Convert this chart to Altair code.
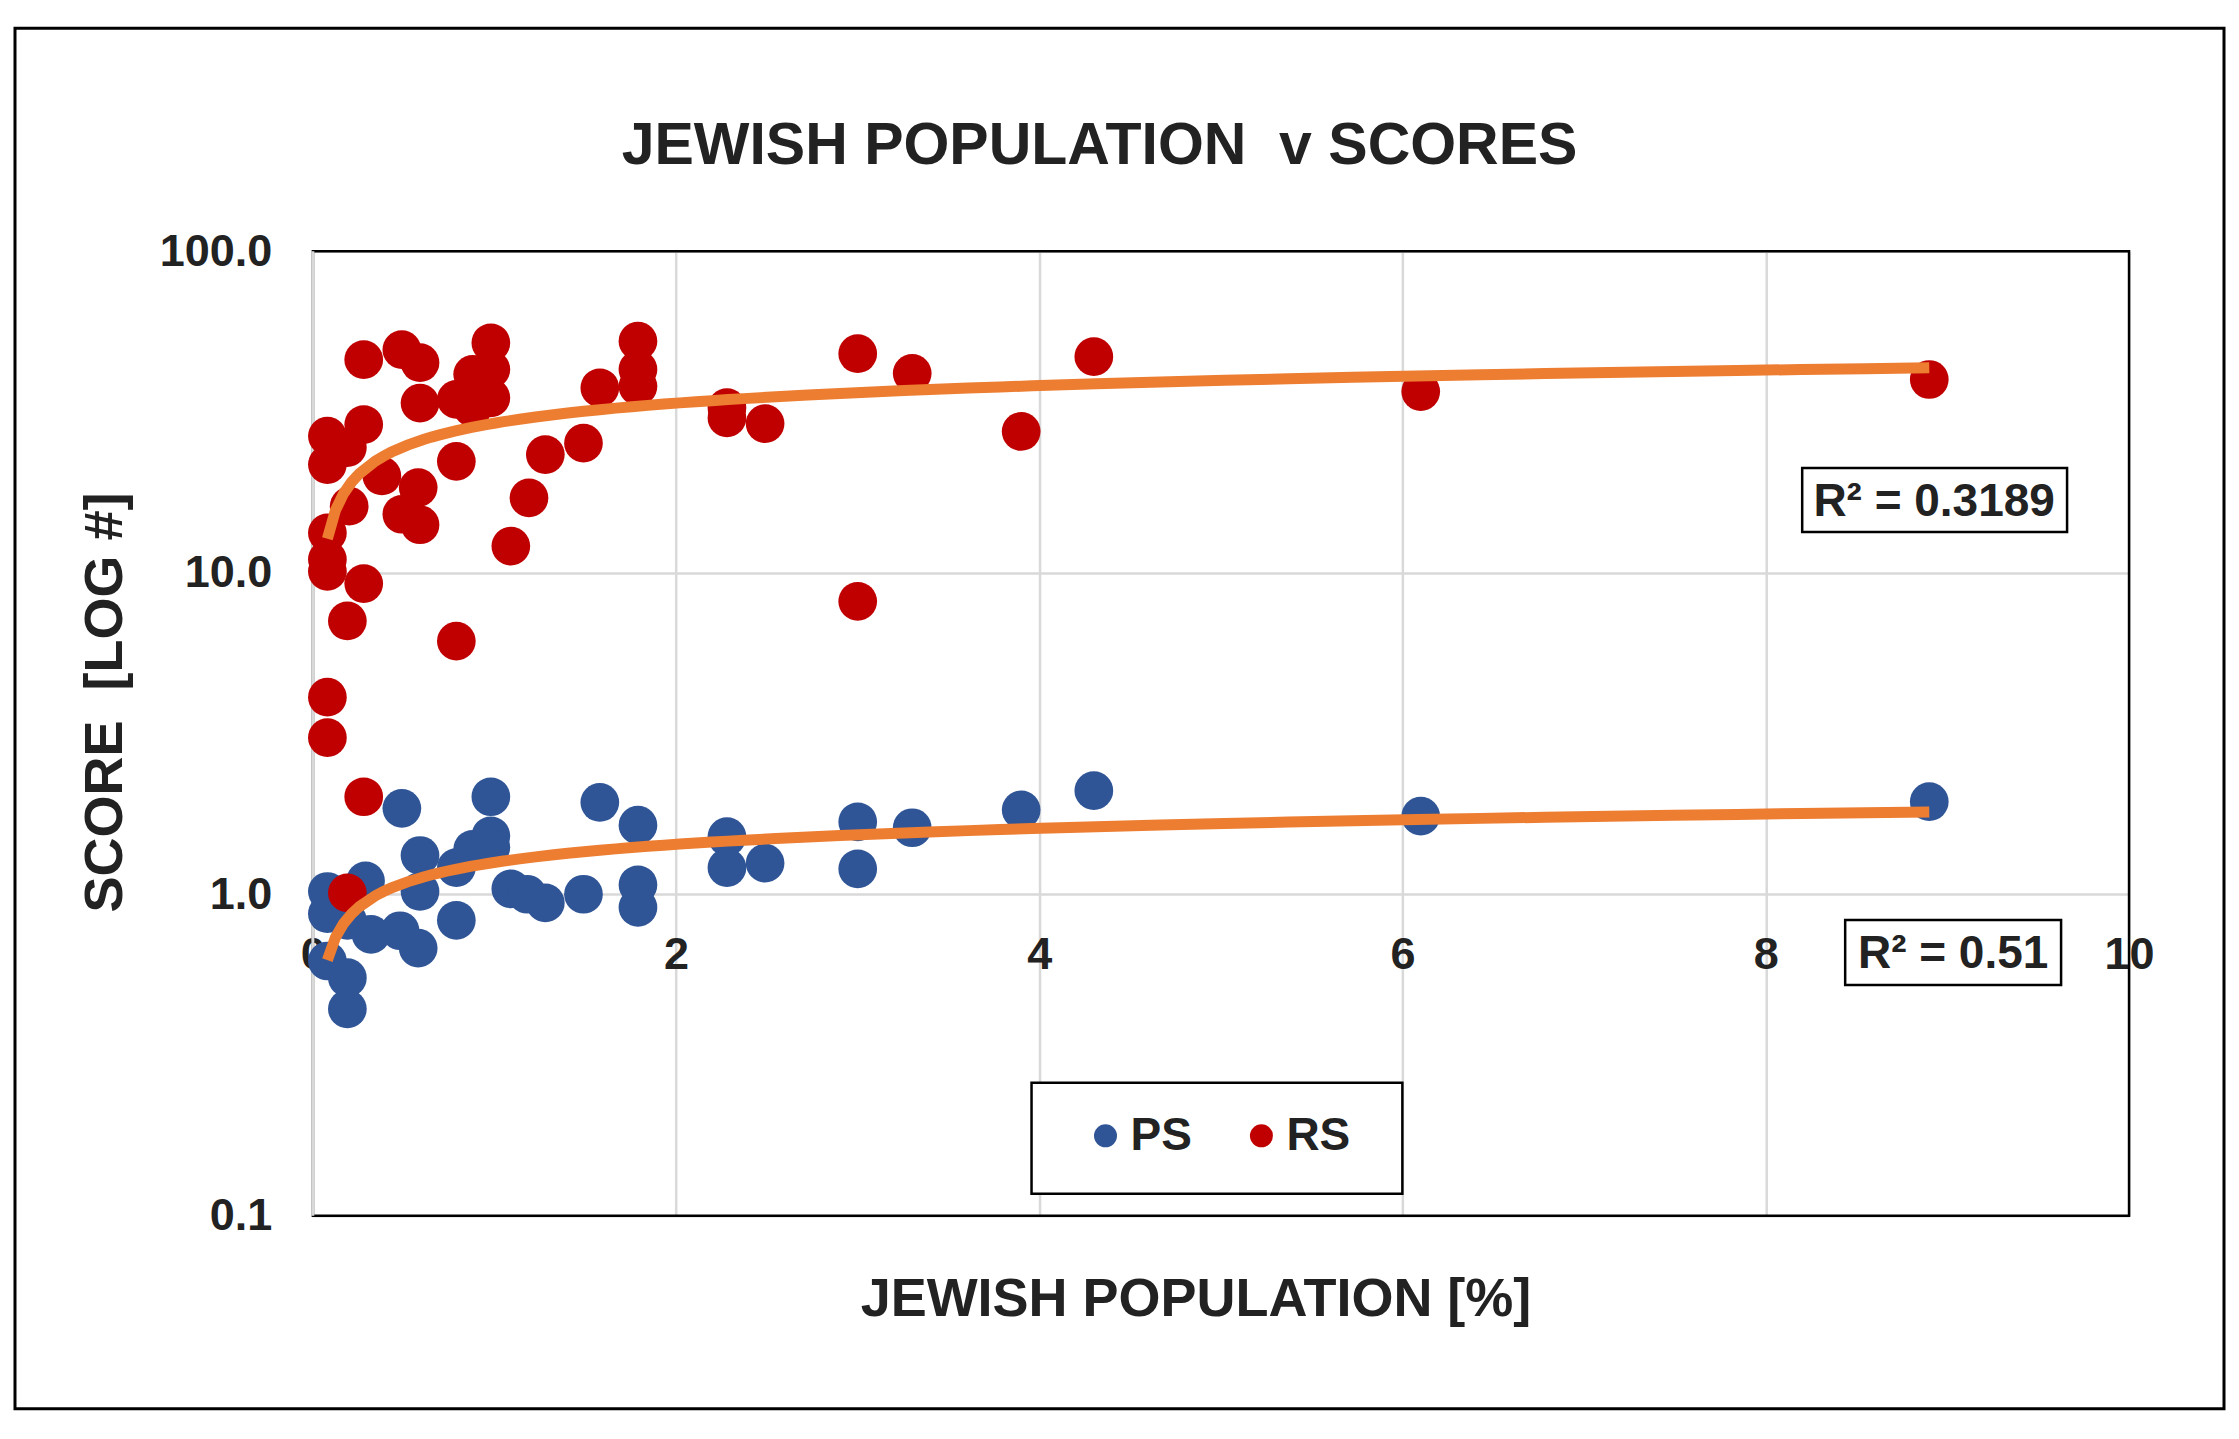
import altair as alt
import pandas as pd

FONT = "Liberation Sans"
INK = "#222222"

# PS scores (blue)
ps_x = [0.49, 0.98, 1.58, 1.79, 0.59, 0.79, 0.88, 0.98, 0.98, 0.59, 0.79, 1.09,
        1.18, 1.28, 1.49, 1.79, 1.79, 0.29, 0.08, 0.08, 0.19, 0.32, 0.48, 0.58,
        0.08, 0.19, 0.19, 2.28, 2.28, 2.49, 3.00, 3.00, 3.30, 3.90, 4.30, 6.10,
        8.90]
ps_y = [1.85, 2.01, 1.93, 1.64, 1.32, 1.21, 1.38, 1.52, 1.40, 1.02, 0.83, 1.04,
        1.00, 0.94, 1.00, 1.07, 0.91, 1.10, 1.02, 0.87, 0.83, 0.75, 0.77, 0.68,
        0.62, 0.55, 0.44, 1.51, 1.21, 1.25, 1.68, 1.20, 1.61, 1.83, 2.10, 1.75,
        1.94]

# RS scores (red)
rs_x = [0.28, 0.49, 0.59, 0.98, 0.88, 0.98, 0.79, 0.98, 0.88, 0.59, 0.08, 0.28,
        0.08, 0.19, 0.38, 0.20, 0.58, 0.49, 0.59, 0.79, 1.28, 1.49, 1.58, 1.79,
        1.79, 1.79, 1.19, 1.09, 0.08, 0.08, 0.08, 0.28, 0.19, 0.79, 0.08, 0.08,
        0.28, 0.19, 2.28, 2.28, 2.49, 3.00, 3.30, 3.90, 4.30, 3.00, 6.10, 8.90]
rs_y = [46.0, 49.4, 45.0, 51.9, 41.4, 42.9, 34.6, 35.0, 32.6, 33.7, 26.6, 28.9,
        21.7, 24.5, 20.0, 16.1, 18.4, 15.2, 14.1, 22.2, 23.3, 25.3, 37.6, 52.5,
        42.9, 38.0, 17.1, 12.1, 13.3, 11.0, 10.1, 9.25, 7.08, 6.13, 4.10, 3.07,
        2.01, 1.01, 32.6, 30.3, 29.1, 48.0, 41.7, 27.5, 47.0, 8.15, 36.6, 39.9]

series_names = ["PS", "RS"]
series_colors = ["#2F5597", "#C00000"]
trend_color = "#ED7D31"
x_ticks = [0, 2, 4, 6, 8, 10]
y_ticks = [0.1, 1, 10, 100]
r2_labels = ["R² = 0.3189", "R² = 0.51"]
title_text = "JEWISH POPULATION \u00a0v SCORES"

W, H = 1817, 965

df = pd.concat([
    pd.DataFrame({"x": ps_x, "y": ps_y, "series": "PS"}),
    pd.DataFrame({"x": rs_x, "y": rs_y, "series": "RS"}),
], ignore_index=True)
one = pd.DataFrame({"k": [0]})

x_scale = alt.Scale(domain=[0, 10], nice=False)
y_scale = alt.Scale(type="log", domain=[0.1, 100], nice=False)

x_axis = alt.Axis(
    values=x_ticks, format="d", grid=True, gridColor="#d9d9d9", gridWidth=2.5,
    domain=False, ticks=False, labelFlush=False, labelPadding=36, offset=-319,
    labelFont=FONT, labelFontSize=45, labelFontWeight="bold", labelColor=INK,
    title="JEWISH POPULATION [%]", titleFont=FONT, titleFontSize=54,
    titleFontWeight="bold", titleColor=INK, titleX=883, titleY=403,
    titleBaseline="middle",
)
y_axis = alt.Axis(
    values=y_ticks, format=".1f", grid=True, gridColor="#d9d9d9", gridWidth=2.5,
    domain=False, ticks=False, labelPadding=41,
    labelFont=FONT, labelFontSize=45, labelFontWeight="bold", labelColor=INK,
    title="SCORE \u00a0[LOG #]", titleFont=FONT, titleFontSize=54,
    titleFontWeight="bold", titleColor=INK, titleAngle=270, titleX=-207,
    titleY=451, titleBaseline="middle",
)

frame = alt.Chart(one).mark_rect(filled=False, stroke="black", strokeWidth=2.5).encode(
    x=alt.value(0), x2=alt.value(W), y=alt.value(0), y2=alt.value(H)
)
left_line = alt.Chart(one).mark_rule(color="#d9d9d9", strokeWidth=3).encode(
    x=alt.value(0), y=alt.value(0), y2=alt.value(H)
)
outer = alt.Chart(one).mark_rect(filled=False, stroke="black", strokeWidth=3).encode(
    x=alt.value(-298), x2=alt.value(1912), y=alt.value(-223), y2=alt.value(1158)
)
title = alt.Chart(one).mark_text(
    text=title_text, font=FONT, fontSize=59, fontWeight="bold", color=INK,
    align="center", baseline="alphabetic",
).encode(x=alt.value(787), y=alt.value(-87))

points = alt.Chart(df).mark_circle(size=1500, opacity=1).encode(
    x=alt.X("x:Q", scale=x_scale, axis=x_axis),
    y=alt.Y("y:Q", scale=y_scale, axis=y_axis),
    color=alt.Color(
        "series:N",
        scale=alt.Scale(domain=series_names, range=series_colors),
        legend=alt.Legend(
            orient="none", legendX=770, legendY=862, direction="horizontal",
            title=None, labelFont=FONT, labelFontSize=46, labelFontWeight="bold",
            labelColor=INK, symbolType="circle", symbolSize=530,
            symbolStrokeWidth=0, labelOffset=2, columnPadding=46, padding=0,
        ),
    ),
)

trend = alt.Chart(df).transform_regression(
    "x", "y", method="log", groupby=["series"]
).mark_line(color=trend_color, strokeWidth=11).encode(
    x=alt.X("x:Q", scale=x_scale),
    y=alt.Y("y:Q", scale=y_scale),
    detail="series:N",
)

legend_box = alt.Chart(one).mark_rect(fill="white", stroke="black", strokeWidth=2.5).encode(
    x=alt.value(719), x2=alt.value(1090), y=alt.value(832), y2=alt.value(943)
)
r2_box1 = alt.Chart(one).mark_rect(fill="white", stroke="black", strokeWidth=2.5).encode(
    x=alt.value(1490), x2=alt.value(1755), y=alt.value(217), y2=alt.value(281)
)
r2_box2 = alt.Chart(one).mark_rect(fill="white", stroke="black", strokeWidth=2.5).encode(
    x=alt.value(1533), x2=alt.value(1749), y=alt.value(669), y2=alt.value(734)
)
r2_text1 = alt.Chart(one).mark_text(
    text=r2_labels[0], font=FONT, fontSize=46, fontWeight="bold", color=INK,
    align="center", baseline="middle",
).encode(x=alt.value(1622), y=alt.value(251))
r2_text2 = alt.Chart(one).mark_text(
    text=r2_labels[1], font=FONT, fontSize=46, fontWeight="bold", color=INK,
    align="center", baseline="middle",
).encode(x=alt.value(1641), y=alt.value(703))

chart = alt.layer(
    outer, title, frame, left_line, points, trend, legend_box,
    r2_box1, r2_box2, r2_text1, r2_text2,
).properties(
    width=W,
    height=H,
    padding={"left": 5, "top": 18, "right": 5, "bottom": 5},
).configure_view(stroke=None)

chart.save("out.html", embed_options={"renderer": "svg", "actions": False})
